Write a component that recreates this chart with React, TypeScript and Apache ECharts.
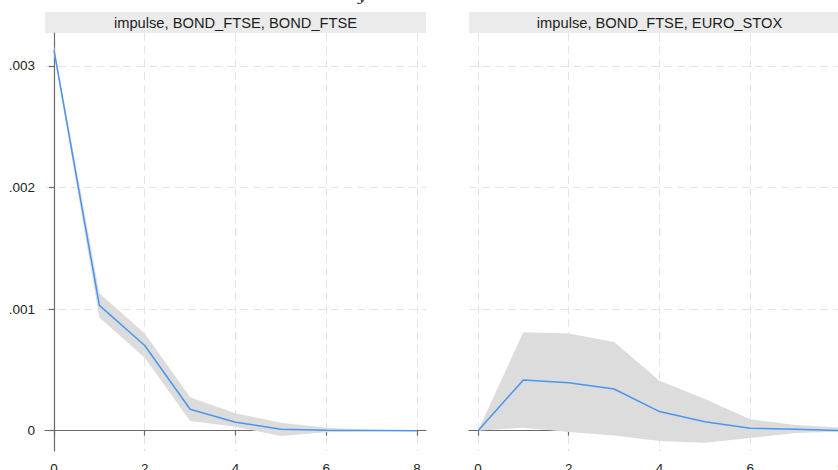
import React, { useEffect, useRef } from "react";
import * as echarts from "echarts";

// ---- data ----
const periods = [0, 1, 2, 3, 4, 5, 6, 7, 8];

const irfBondBond = [0.00313, 0.00103, 0.0007, 0.000176, 0.00007, 0.000012, 0.000003, 0.000001, 0];
const upperBondBond = [0.00316, 0.00113, 0.0008, 0.000275, 0.000143, 0.000066, 0.000025, 0.000008, 0.000002];
const lowerBondBond = [0.0031, 0.00093, 0.0006, 0.00008, 0.000033, -0.000044, -0.000013, -0.000004, -0.000001];

const irfBondEuro = [0, 0.000417, 0.000395, 0.000343, 0.000157, 0.000074, 0.00002, 0.000011, 0];
const upperBondEuro = [0, 0.00081, 0.0008, 0.00073, 0.00041, 0.00026, 0.000094, 0.000047, 0.000025];
const lowerBondEuro = [0, 0.000025, -0.00001, -0.00004, -0.000085, -0.0001, -0.00006, -0.00002, -0.000008];

const panelTitles = ["impulse, BOND_FTSE, BOND_FTSE", "impulse, BOND_FTSE, EURO_STOX"];

const xTickValues = [0, 2, 4, 6, 8];
const yTickValues = [0, 0.001, 0.002, 0.003];
const yTickLabels = ["0", ".001", ".002", ".003"];

const FONT = "'Liberation Sans', Arial, Helvetica, sans-serif";
const LINE_BLUE = "#4a96ee";
const BAND_GRAY = "#dcdcdc";
const GRID_GRAY = "#e4e4e4";
const AXIS_GRAY = "#6a6a6a";

const X_MIN = -0.198;
const X_MAX = 8.198;
const Y_MIN = -0.000167;
const Y_MAX = 0.00327;

function bandSeries(idx: number, upper: number[], lower: number[]) {
  return {
    type: "custom",
    xAxisIndex: idx,
    yAxisIndex: idx,
    data: [[0, 0]],
    z: 1,
    silent: true,
    renderItem: (params: any, api: any) => {
      if (params.dataIndex !== 0) return null;
      const pts: number[][] = [];
      for (let i = 0; i < periods.length; i++) pts.push(api.coord([periods[i], upper[i]]));
      for (let i = periods.length - 1; i >= 0; i--) pts.push(api.coord([periods[i], lower[i]]));
      return {
        type: "polygon",
        shape: { points: pts },
        style: { fill: BAND_GRAY, stroke: null },
      };
    },
  };
}

function lineSeries(idx: number, vals: number[]) {
  return {
    type: "line",
    xAxisIndex: idx,
    yAxisIndex: idx,
    data: periods.map((p, i) => [p, vals[i]]),
    showSymbol: false,
    symbol: "none",
    z: 3,
    lineStyle: { color: LINE_BLUE, width: 1.5 },
  };
}

function xAxisFor(idx: number) {
  return {
    type: "value",
    gridIndex: idx,
    min: X_MIN,
    max: X_MAX,
    axisLine: { show: true, lineStyle: { color: AXIS_GRAY, width: 1.2 } },
    axisTick: {
      show: true,
      length: 5,
      customValues: xTickValues,
      lineStyle: { color: AXIS_GRAY, width: 1.2 },
    },
    axisLabel: {
      show: true,
      customValues: xTickValues,
      margin: 10,
      color: "#222",
      fontSize: 13.5,
      fontFamily: FONT,
    },
    splitLine: {
      show: true,
      customValues: xTickValues,
      lineStyle: { color: GRID_GRAY, type: [8, 5], width: 1 },
    },
  };
}

function yAxisFor(idx: number, showAxis: boolean) {
  return {
    type: "value",
    gridIndex: idx,
    min: Y_MIN,
    max: Y_MAX,
    axisLine: { show: showAxis, lineStyle: { color: AXIS_GRAY, width: 1.2 } },
    axisTick: {
      show: showAxis,
      length: 5,
      customValues: yTickValues,
      lineStyle: { color: AXIS_GRAY, width: 1.2 },
    },
    axisLabel: {
      show: showAxis,
      customValues: yTickValues,
      margin: 10,
      color: "#222",
      fontSize: 13.5,
      fontFamily: FONT,
      formatter: (v: number) => {
        const k = yTickValues.findIndex((t) => Math.abs(t - v) < 1e-9);
        return k >= 0 ? yTickLabels[k] : "";
      },
    },
    splitLine: {
      show: true,
      customValues: yTickValues,
      lineStyle: { color: GRID_GRAY, type: [8, 5], width: 1 },
    },
  };
}

export default function App() {
  const ref = useRef<HTMLDivElement>(null);

  useEffect(() => {
    if (!ref.current) return;
    const chart = echarts.init(ref.current, null, { renderer: "svg" });
    const grids = [
      { left: 45, top: 33, width: 381, height: 418, outerBoundsMode: "none", containLabel: false },
      { left: 469, top: 33, width: 381, height: 418, outerBoundsMode: "none", containLabel: false },
    ];
    chart.setOption({
      animation: false,
      backgroundColor: "#ffffff",
      grid: grids,
      xAxis: [xAxisFor(0), xAxisFor(1)],
      yAxis: [yAxisFor(0, true), yAxisFor(1, false)],
      series: [
        bandSeries(0, upperBondBond, lowerBondBond),
        lineSeries(0, irfBondBond),
        bandSeries(1, upperBondEuro, lowerBondEuro),
        lineSeries(1, irfBondEuro),
      ],
      graphic: [
        ...grids.map((g, i) => ({
          type: "group",
          children: [
            {
              type: "rect",
              shape: { x: g.left, y: 12, width: g.width, height: 21 },
              style: { fill: "#ebebeb" },
              z: 0,
            },
            {
              type: "text",
              x: g.left + g.width / 2,
              y: 22.5,
              style: {
                text: panelTitles[i],
                align: "center",
                verticalAlign: "middle",
                fontSize: 14.7,
                fontFamily: FONT,
                fill: "#1e1e1e",
              },
              z: 1,
            },
          ],
        })),
        {
          type: "text",
          x: 362,
          y: 3,
          style: {
            text: "y",
            align: "center",
            verticalAlign: "bottom",
            fontSize: 15,
            fontStyle: "italic",
            fontFamily: "'DejaVu Serif', 'Liberation Serif', serif",
            fill: "#333",
          },
        },
      ],
    });
    return () => chart.dispose();
  }, []);

  return (
    <div
      ref={ref}
      style={{ position: "absolute", left: 0, top: 0, width: 838, height: 470 }}
    />
  );
}
